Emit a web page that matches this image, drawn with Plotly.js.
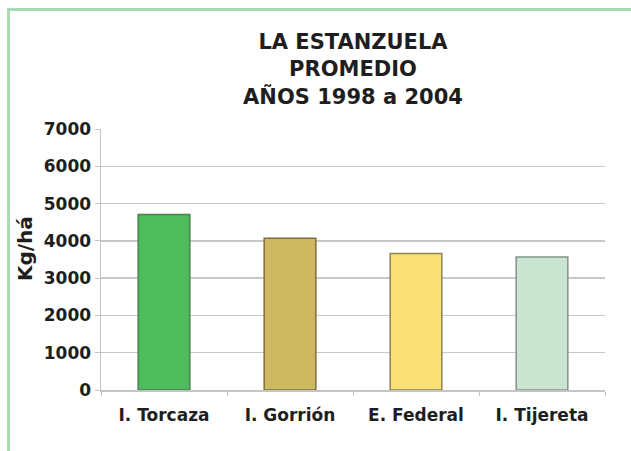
<!DOCTYPE html>
<html>
<head>
<meta charset="utf-8">
<script src="https://cdn.plot.ly/plotly-3.0.1.min.js"></script>
<style>
  html, body { margin: 0; padding: 0; background: #ffffff; }
  #wrap { position: relative; width: 631px; height: 451px; overflow: hidden; }
  #chart { position: absolute; left: 0; top: 0; width: 631px; height: 451px; }
  #frame { position: absolute; left: 7px; top: 8px; width: 640px; height: 460px;
           border-left: 3px solid #a9d9b4; border-top: 3px solid #a9d9b4; pointer-events: none; }
</style>
</head>
<body>
<div id="wrap">
  <div id="chart"></div>
  <div id="frame"></div>
</div>
<script>
const categories = ['I. Torcaza', 'I. Gorrión', 'E. Federal', 'I. Tijereta'];
const yields = [4710, 4070, 3660, 3570];
const yTicks = [0, 1000, 2000, 3000, 4000, 5000, 6000, 7000];
const titleLines = ['LA ESTANZUELA', 'PROMEDIO', 'AÑOS 1998 a 2004'];
const yTitle = 'Kg/há';

const barColors = ['#4cbc5c', '#cfb862', '#f9e074', '#c9e4d1'];
const barLines = ['#4a7f52', '#7e6e3a', '#8f8352', '#7f9488'];

const font = 'DejaVu Sans, Liberation Sans, Arial, sans-serif';

const trace = {
  type: 'bar',
  x: categories,
  y: yields,
  marker: { color: barColors, line: { color: barLines, width: 1.5 } },
  hoverinfo: 'x+y'
};

const layout = {
  width: 631,
  height: 451,
  margin: { l: 101, r: 26, t: 129, b: 61 },
  paper_bgcolor: '#ffffff',
  plot_bgcolor: '#ffffff',
  showlegend: false,
  bargap: 0.59,
  font: { family: font, color: '#1e1e1e' },
  title: {
    text: titleLines.join('<br>'),
    font: { family: font, size: 21, color: '#1e1e1e', weight: 'bold' },
    x: 0.5, xref: 'paper', xanchor: 'center',
    y: 1 - 49 / 451, yref: 'container', yanchor: 'top'
  },
  xaxis: {
    type: 'category',
    showline: true, linecolor: '#c4c4c4', linewidth: 1.5,
    ticks: 'outside', tickson: 'boundaries', ticklen: 4, tickcolor: '#c4c4c4',
    ticklabelstandoff: 9,
    tickfont: { family: font, size: 17, color: '#1e1e1e', weight: 'bold' },
    showgrid: false, zeroline: false
  },
  yaxis: {
    range: [0, 7000],
    tickvals: yTicks,
    ticktext: yTicks.map(String),
    showline: true, linecolor: '#c4c4c4', linewidth: 1.5,
    ticks: 'outside', ticklen: 5, tickcolor: '#c4c4c4',
    showgrid: true, gridcolor: '#c8c8c8', gridwidth: 1.5,
    zeroline: false,
    tickfont: { family: font, size: 17, color: '#1e1e1e', weight: 'bold' }
  },
  annotations: [{
    text: yTitle,
    textangle: -90,
    xref: 'paper', yref: 'paper',
    x: (25 - 101) / 504, y: (390 - 249) / 261,
    xanchor: 'center', yanchor: 'middle',
    showarrow: false,
    font: { family: font, size: 20, color: '#1e1e1e', weight: 'bold' }
  }]
};

Plotly.newPlot('chart', [trace], layout, { staticPlot: true, displayModeBar: false });
</script>
</body>
</html>
